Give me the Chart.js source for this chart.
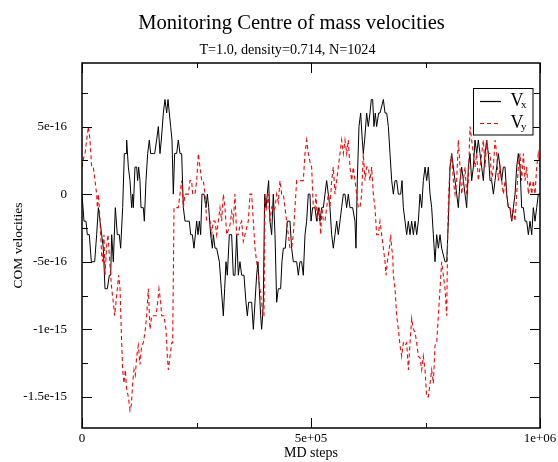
<!DOCTYPE html>
<html>
<head>
<meta charset="utf-8">
<script src="https://cdn.jsdelivr.net/npm/chart.js@4.4.1/dist/chart.umd.min.js"></script>
<style>html,body{margin:0;padding:0;background:#fff}canvas{display:block}</style>
</head>
<body>
<canvas id="c" width="558" height="462"></canvas>
<script>
// Centre of mass velocity monitor (x in units of 1000 MD steps, y in units of 1e-16)

const chartTitle = 'Monitoring Centre of mass velocities';
const chartSubtitle = 'T=1.0, density=0.714, N=1024';

const xTickValues = [0, 500, 1000];
const xTickLabels = ['0', '5e+05', '1e+06'];
const xMarkValues = [0, 250, 500, 750, 1000];
const yTickValues = [-15, -10, -5, 0, 5];
const yTickLabels = ['-1.5e-15', '-1e-15', '-5e-16', '0', '5e-16'];
const yMarkValues = [-15, -12.5, -10, -7.5, -5, -2.5, 0, 2.5, 5, 7.5];

// V_x
const vxSteps = [
  0, 4.4, 8.7, 11.6, 16, 20.4, 27.7, 32, 35.7, 39.3,
  42.9, 46.6, 50.2, 55.3, 59.7, 62.6, 64.8, 68.4, 72.8, 77.1,
  81.5, 84.4, 88.8, 92.4, 96.1, 97.5, 101.2, 104.8, 108.4, 110.6,
  112.1, 115.7, 119.4, 121.5, 123.7, 126.6, 128.8, 133.9, 136.1, 139.7,
  143.4, 147, 149.9, 155.7, 158.7, 163, 166.7, 170.3, 173.2, 177.6,
  181.2, 184.9, 187.8, 190.7, 193.6, 196.5, 199.4, 202.3, 206.7, 210.3,
  214, 217.6, 221.3, 224.9, 228.5, 234.3, 237.3, 240.9, 244.5, 247.5,
  250.4, 253.3, 256.2, 259.1, 262, 266.4, 270.7, 273.7, 276.6, 280.9,
  284.6, 286.8, 290.4, 294, 299.9, 304.2, 308.6, 311.5, 314.4, 317.3,
  321.7,
  326.7, 330.4, 334, 337.7, 341.3, 344.9, 348.6, 353.7, 358, 361,
  363.9, 370.4, 374.1, 377.7, 381.3, 384.2, 387.1, 390.1, 392.2, 394.4,
  395.9, 398.8, 401.7, 404.6, 407.5, 410.4, 414.1, 417.7, 421.4, 425,
  428.6, 433.7, 436.6, 439.6, 443.9, 448.3, 454.1, 457.7, 461.4, 468.7,
  472.3, 475.9, 479.6, 483.2, 486.9, 490.5, 494.1, 497.8, 500, 503.6,
  508.7, 512.3, 516, 519.6, 523.2, 526.9, 530.5, 534.2, 537.8, 541.4,
  545.1, 548.7, 552.4, 556, 559.6, 563.3, 566.9, 570.6, 574.2, 577.8,
  581.5, 585.1, 590.9, 596, 598.2, 601.1, 604.8, 608.4, 612, 614.2,
  617.1, 621.5, 625.1, 628.8, 631.7, 634.6, 637.5, 640.4, 643.3, 647.7,
  650.7, 658, 661.6, 665.3, 668.9, 672.5, 676.2, 679.8, 683.5, 687.1,
  690.7, 695.8, 698.7, 701.6, 705.3, 708.9, 712.6, 716.2, 719.8, 723.5,
  727.1, 730.8, 734.4, 738, 741.7, 745.3, 749, 752.6, 756.2, 759.9,
  763.5, 767.1, 770.8, 774.4, 778.1, 781.7, 785.3, 792.6, 796.3, 799.9,
  803.5, 807.2, 810.8, 814.5, 818.1, 821.7, 825.4, 829, 832.7, 836.3,
  839.9, 843.6, 847.2, 850.8, 854.5, 858.1, 861.8, 865.4, 869, 872.7,
  876.3, 880, 883.6, 887.2, 890.9, 894.5, 898.2, 901.8, 905.4, 909.1,
  912.7, 916.3, 920, 923.6, 927.3, 930.9, 934.5, 938.2, 941.8, 945.5,
  949.1, 952.7, 956.4, 960, 963.7, 967.3, 970.9, 974.6, 978.2, 981.9,
  985.5, 989.1, 992.8, 996.4, 1000
];
const vxValues = [
  0, -2, -2, -3, -3, -5, -5, -3, -1, -2,
  -3, -4, -7, -7, -6, -6, -3, -5, -1, -3,
  -3, -4, -1, 3, 3, 4, 2, 1, -1, 0,
  -1, 2, 2, 1, 2, 1, -1, -1, -2, 1,
  3, 4, 3, 3, 3, 4, 5, 3, 4, 6,
  7, 6, 7, 6, 5, 4, 0, 3, 3, 4,
  3, 3, -1, -2, -2, -2, -3, -3, -4, -3,
  -2, -3, -2, -3, 0, 0, -1, 0, -1, -3,
  -4, -3, -4, -4, -5, -7, -9, -7, -5, -6,
  -3,
  -3, -6, -6, -3, -6, -5, -6, -6, -8, -9,
  -8, -8, -10, -8, -6, -5, -7, -9, -10, -9,
  -8, 0, -1, 0, 1, -2, -3, 0, -3, -8,
  -7, -7, -5, -4, -4, -2, -2, -4, -5, -5,
  -6, -5, -5, -6, -3, -2, 0, 0, -2, -1,
  -1, -2, -1, -2, -1, -1, 0, 1, 0, -1,
  -3, -4, -3, -2, -3, -2, -1, 0, 0, -1,
  0, -1, -1, -2, -4, 1, 5, 6, 4, 3,
  4, 6, 5, 6, 7, 7, 5, 6, 5, 6,
  6, 7, 6, 6, 5, 3, 1, 0, 1, 1,
  0, 0, 1, -1, -2, -3, -2, -3, -2, -3,
  -2, -3, -2, 0, -1, 1, 2, 1, 2, 0,
  -1, -3, -5, -3, -4, -3, -4, -5, -5, -2,
  2, 3, 2, 1, 0, -1, 1, 2, 1, 0,
  -1, 2, 3, 1, 2, 4, 3, 4, 3, 2,
  1, 3, 4, 3, 1, 1, 0, 1, 2, 3,
  2, 1, 2, 2, 0, -1, -1, -2, -1, 0,
  2, 3, 2, -1, -1, -2, -2, -3, -2, -3,
  -1, -2, -1, 0, 0
];

// V_y
const vySteps = [
  0, 2.9, 6.6, 10.2, 13.8, 17.5, 21.1, 24.7, 28.4, 32,
  33.5, 35.7, 37.8, 40.8, 42.9, 45.1, 48, 50.2, 53.9, 56.8,
  59.7, 62.6, 64.8, 68.4, 71.3, 74.2, 77.1, 80.1, 83, 86.6,
  88.8, 91.7, 94.6, 97.5, 101.2, 104.8, 107.7, 110.6, 113.5, 116.4,
  119.4, 123, 126.6, 130.3, 133.9, 137.6, 141.2, 144.8, 148.5, 152.1,
  161.6, 165.2, 168.1, 171.8, 173.9, 179, 183.4, 186.3, 188.5, 192.1,
  195.8, 198, 200.9, 210.3, 214, 217.6, 221.3, 224.9, 232.2, 235.8,
  239.4, 241.6, 246.7, 250.4, 254, 257.6, 261.3, 264.9, 268.6, 272.2,
  279.5, 283.1, 286.8, 290.4, 294, 297.7, 301.3, 305, 308.6, 312.2,
  315.9,
  323.1, 326.7, 330.4, 334, 337.7, 341.3, 344.9, 348.6, 352.2, 355.9,
  363.1, 366.8, 370.4, 374.1, 377.7, 381.3, 385, 388.6, 392.2, 394.4,
  397.3, 399.5, 403.2, 406.8, 410.4, 414.1, 417.7, 421.4, 425, 428.6,
  432.3, 435.9, 439.6, 443.2, 446.8, 450.5, 454.1, 457.7, 461.4, 465,
  468.7, 483.2, 486.9, 490.5, 494.1, 497.8, 501.4, 505, 508.7, 510.9,
  513.8, 518.2, 521.1, 524, 526.9, 530.5, 534.2, 537.8, 541.4, 545.1,
  548.7, 552.4, 556, 559.6, 563.3, 566.9, 570.6, 574.2, 577.8, 581.5,
  585.1, 588.8, 592.4, 596, 599.7, 603.3, 607, 610.6, 614.2, 617.9,
  621.5, 625.1, 628.8, 632.4, 636.1, 639.7, 643.3, 647, 650.6,
  654.3, 658, 661.6, 663.8, 666.7, 671.1, 674, 676.2, 678.4, 679.8,
  683.5, 687.1, 690.7, 694.4, 698, 701.6, 705.3, 708.9, 712.6, 716.2,
  719.8, 723.5, 727.1, 730.8, 734.4, 738, 741.7, 745.3, 749, 752.6,
  756.2, 759.9, 763.5, 767.1, 770.8, 774.4, 778.1, 781.7, 785.3, 789,
  792.6, 796.3, 798.4, 800.6, 803.5, 807.2, 810.8, 814.5, 818.1, 821.7,
  825.4, 829, 832.7, 836.3, 839.9, 843.6, 847.2, 850.8, 854.5, 858.1,
  861.8, 865.4, 869, 872.7, 876.3, 880, 883.6, 887.2, 890.9, 894.5,
  898.2, 901.8, 905.4, 909.1, 912.7, 916.3, 920, 923.6, 927.3, 930.9,
  934.5, 938.2, 941.8, 945.5, 949.1, 952.7, 956.4, 960, 963.7, 967.3,
  970.9, 974.6, 978.2, 981.9, 985.5, 989.1, 992.8, 996.4, 1000
];
const vyValues = [
  2, 2.6, 3, 4, 5, 4, 2, 2, 1, 0,
  -1, 0, -1, -3, -4.5, -5, -3, -6, -3.8, -3,
  -4.5, -6, -7, -8, -9, -8, -7, -6, -7, -11,
  -13, -14, -13, -14.4, -15, -16, -15.6, -14, -13, -13.4,
  -12, -11.2, -12.6, -11.2, -11, -10.2, -9, -7, -10, -9,
  -9, -8, -7, -8, -9, -9, -10, -12, -13, -12,
  -11, -11, -1, -1, 0, 1, -1, 0, 0, 1,
  1, 0, 0, 1, 3, 2, 1, 1, 0, -2,
  -2, -3, -2, -2, -3, -2, -1, -2, 0, -1,
  -3,
  -2.3, -1.3, -2, 0, -3, -3, -2.3, -2, -3.5, -3,
  -2, 0, 0, -2, -4, -5, -6, -7, -8, -9,
  -9, 0, -1, 0, -2, -1, -1.3, -1, 0, -0.6,
  1, 0, 0, -1, -2, -3, -4, -4, -3, -1,
  1, 1, 3, 4, 3, 2.4, 2, -1, -1, 0,
  -2, -1, -3, -1, -2, -2, -1, 0, -1, 1,
  2, 0, 1, 2, 3, 4, 3, 4, 3, 4,
  2, 1, 2, 1, 0, -1, -1, 0, 3, 1,
  2, 2, 1, 2, 0, -1, -3, -3, -2,
  -3, -4, -5, -6, -5, -4, -3, -4, -4.5, -6,
  -7, -9, -10, -11.2, -12, -11, -11.2, -11, -13, -11,
  -9.2, -10, -10.2, -11, -12, -12.1, -13, -12, -13, -15,
  -15, -14, -13, -14, -11.2, -11, -9, -7, -5, -6,
  -7, -9, -3, 0, 2, 3, 1, 0, 1, 4,
  2, 0, 1, 2, 0, 1, 5, 4, 3, 2,
  3, 1, 2, 3, 4, 2, 4, 3, 3, 1,
  2, 4, 3, 1, 2, 1, 0, 1, 0, -1,
  -1, -2, -1, -2, 0, 2, 3, 1, 3, 1,
  2, 0, 1, 0, 1, 0, 2, 3, 2
];

if (vxSteps.length !== vxValues.length || vySteps.length !== vyValues.length) {
  throw new Error('series length mismatch ' + vxSteps.length + '/' + vxValues.length + ' ' + vySteps.length + '/' + vyValues.length);
}

const SERIF = '"Liberation Serif", "Times New Roman", serif';
const VX_COLOR = '#000000';
const VY_COLOR = '#ff0000';
Chart.defaults.font.family = SERIF;
Chart.defaults.color = '#000';

function points(xs, ys) {
  return xs.map((x, i) => ({ x: x, y: ys[i] }));
}

// frame, inward tick marks, titles and the boxed legend (Grace style)
const gracePlugin = {
  id: 'grace',
  afterDatasetsDraw(chart) {
    const { ctx, chartArea: a, scales: { x, y } } = chart;
    ctx.save();
    ctx.strokeStyle = '#000';
    ctx.lineWidth = 1;
    ctx.beginPath();
    xMarkValues.forEach(v => {
      const px = Math.round(x.getPixelForValue(v)) + 0.5;
      const len = xTickValues.includes(v) ? 10 : 5;
      ctx.moveTo(px, a.bottom); ctx.lineTo(px, a.bottom - len);
      ctx.moveTo(px, a.top); ctx.lineTo(px, a.top + len);
    });
    yMarkValues.forEach(v => {
      const py = Math.round(y.getPixelForValue(v)) + 0.5;
      const len = yTickValues.includes(v) ? 10 : 6;
      ctx.moveTo(a.left, py); ctx.lineTo(a.left + len, py);
      ctx.moveTo(a.right, py); ctx.lineTo(a.right - len, py);
    });
    ctx.stroke();

    ctx.lineWidth = 1.5;
    ctx.strokeRect(a.left, a.top, a.right - a.left, a.bottom - a.top);

    // titles
    ctx.fillStyle = '#000';
    ctx.textAlign = 'center';
    ctx.textBaseline = 'alphabetic';
    ctx.font = '20.6px ' + SERIF;
    ctx.fillText(chartTitle, 291.5, 28.5);
    ctx.font = '14.2px ' + SERIF;
    ctx.fillText(chartSubtitle, 287.5, 53.5);

    // legend
    const lx = 473.5, ly = 88.5, lw = 59.5, lh = 46.5;
    ctx.fillStyle = '#fff';
    ctx.fillRect(lx, ly, lw, lh);
    ctx.lineWidth = 1;
    ctx.strokeStyle = '#000';
    ctx.strokeRect(lx, ly, lw, lh);
    const entries = [
      { name: 'V', sub: 'x', color: VX_COLOR, dash: [], y: 101.5 },
      { name: 'V', sub: 'y', color: VY_COLOR, dash: [4, 3], y: 123.5 }
    ];
    entries.forEach(e => {
      ctx.beginPath();
      ctx.strokeStyle = e.color;
      ctx.lineWidth = 1.2;
      ctx.setLineDash(e.dash);
      ctx.moveTo(480, e.y); ctx.lineTo(501, e.y);
      ctx.stroke();
      ctx.setLineDash([]);
      ctx.fillStyle = '#000';
      ctx.textAlign = 'left';
      ctx.font = '18px ' + SERIF;
      ctx.fillText(e.name, 510.5, e.y + 4.5);
      ctx.font = '11px ' + SERIF;
      ctx.fillText(e.sub, 521, e.y + 6.5);
    });
    ctx.restore();
  }
};

new Chart(document.getElementById('c'), {
  type: 'line',
  data: {
    datasets: [
      {
        label: 'Vx',
        data: points(vxSteps, vxValues),
        borderColor: VX_COLOR,
        borderWidth: 1,
        pointRadius: 0,
        tension: 0,
        order: 1
      },
      {
        label: 'Vy',
        data: points(vySteps, vyValues),
        borderColor: VY_COLOR,
        borderWidth: 1.1,
        borderDash: [4, 3],
        pointRadius: 0,
        tension: 0,
        order: 0
      }
    ]
  },
  options: {
    responsive: false,
    devicePixelRatio: 1,
    animation: false,
    events: [],
    layout: { padding: { top: 63, right: 18, left: 0, bottom: 0 } },
    plugins: {
      legend: { display: false },
      title: { display: false },
      tooltip: { enabled: false }
    },
    scales: {
      x: {
        type: 'linear',
        min: 0,
        max: 1000,
        grid: { display: false, drawTicks: false },
        border: { display: false },
        afterBuildTicks: s => { s.ticks = xTickValues.map(v => ({ value: v })); },
        afterFit: s => { s.height = 34; s.paddingLeft = 0; s.paddingRight = 0; },
        ticks: {
          autoSkip: false,
          maxRotation: 0,
          padding: 3,
          font: { size: 13 },
          callback: v => xTickLabels[xTickValues.indexOf(v)] ?? ''
        },
        title: {
          display: true,
          text: 'MD steps',
          font: { size: 14 },
          padding: { top: 0, bottom: 0 }
        }
      },
      y: {
        type: 'linear',
        min: -17.3,
        max: 9.7,
        grid: { display: false, drawTicks: false },
        border: { display: false },
        afterBuildTicks: s => { s.ticks = yTickValues.map(v => ({ value: v })); },
        afterFit: s => { s.width = 82; s.paddingTop = 0; s.paddingBottom = 0; },
        ticks: {
          autoSkip: false,
          padding: 15,
          font: { size: 13 },
          callback: v => yTickLabels[yTickValues.indexOf(v)] ?? ''
        },
        title: {
          display: true,
          text: 'COM velocities',
          font: { size: 13.5 },
          padding: { top: 10.5, bottom: 0 }
        }
      }
    }
  },
  plugins: [gracePlugin]
});
</script>
</body>
</html>
